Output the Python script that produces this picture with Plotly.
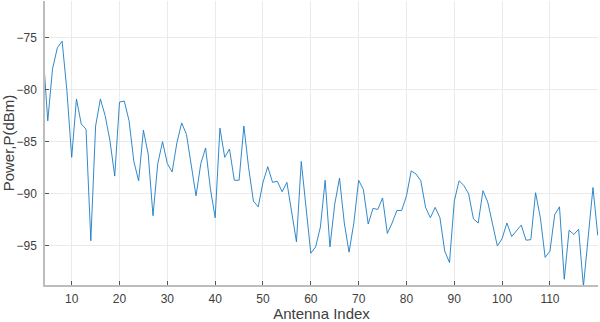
import plotly.graph_objects as go

antenna_index = list(range(4, 121))
power_dbm = [
    -76.3,  # 4
    -83.0, -78.0, -76.0, -75.35, -80.1, -86.5, -80.9, -83.3, -83.8, -94.5,   # 5-14
    -83.5, -80.9, -82.5, -84.9, -88.3, -81.2, -81.1, -83.0, -86.9, -88.75,   # 15-24
    -83.9, -86.2, -92.1, -87.1, -85.0, -87.1, -87.9, -85.1, -83.2, -84.3,    # 25-34
    -87.1, -90.2, -87.1, -85.6, -89.5, -92.3, -83.7, -86.5, -85.7, -88.7,    # 35-44
    -88.7, -83.5, -87.5, -90.7, -91.25, -88.9, -87.4, -88.9, -88.8, -89.8,   # 45-54
    -88.9, -91.6, -94.6, -86.9, -91.3, -95.7, -95.1, -93.2, -88.7, -95.1,    # 55-64
    -91.0, -88.5, -92.8, -95.6, -92.8, -88.7, -89.6, -92.9, -91.4, -91.5,    # 65-74
    -90.4, -93.8, -92.8, -91.6, -91.6, -90.2, -87.8, -88.1, -88.75, -91.3,   # 75-84
    -92.3, -91.3, -92.3, -95.5, -96.6, -90.7, -88.75, -89.2, -90.0, -92.4,   # 85-94
    -92.8, -89.7, -90.8, -92.9, -95.0, -94.3, -92.8, -94.1, -93.6, -93.0,    # 95-104
    -94.45, -94.4, -89.9, -92.3, -96.1, -95.5, -92.0, -91.25, -98.2, -93.5,  # 105-114
    -93.9, -93.4, -98.9, -94.2, -89.4, -94.0,                                # 115-120
]
x_ticks = [10, 20, 30, 40, 50, 60, 70, 80, 90, 100, 110]
y_ticks = [-95, -90, -85, -80, -75]

FONT = "Liberation Sans, Arial, Helvetica, sans-serif"
TXT = "#404040"

fig = go.Figure()
fig.add_trace(go.Scatter(
    x=antenna_index, y=power_dbm, mode="lines",
    line=dict(color="#1a7cc4", width=0.9),
    showlegend=False, hoverinfo="skip",
))

axis_common = dict(
    showgrid=True, gridcolor="#ebebeb", gridwidth=1,
    showline=True, linecolor="#bdbdbd", linewidth=1.5,
    ticks="inside", ticklen=4, tickcolor="#555555", tickwidth=1,
    zeroline=False, mirror=False,
    tickfont=dict(family=FONT, size=12, color=TXT),
)

fig.update_layout(
    width=600, height=322,
    margin=dict(l=45, r=2, t=1, b=37),
    paper_bgcolor="white", plot_bgcolor="white",
    xaxis=dict(
        range=[4.42, 120.05], tickvals=x_ticks,
        title=dict(text="Antenna Index", font=dict(family=FONT, size=15, color=TXT), standoff=2),
        ticklabelstandoff=2,
        **axis_common,
    ),
    yaxis=dict(
        range=[-98.75, -71.5], tickvals=y_ticks,
        title=dict(text="Power,P(dBm)", font=dict(family=FONT, size=15, color=TXT), standoff=4),
        ticklabelstandoff=4,
        **axis_common,
    ),
)

fig.write_html(
    "out.html",
    config={"displayModeBar": False},
    post_script="document.body.style.margin='0';document.body.style.overflow='hidden';",
)
